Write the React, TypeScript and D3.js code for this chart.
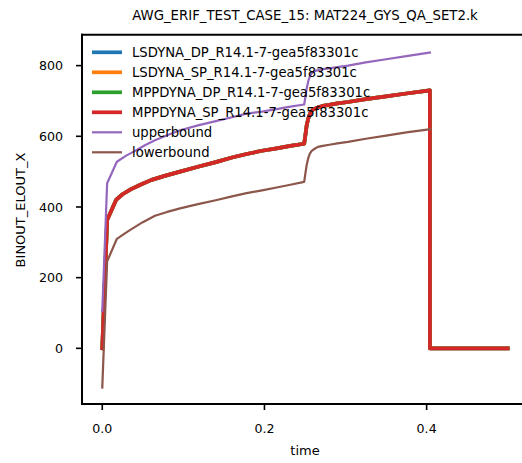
import React from "react";
import * as d3 from "d3";

const seriesNames = [
  "LSDYNA_DP_R14.1-7-gea5f83301c",
  "LSDYNA_SP_R14.1-7-gea5f83301c",
  "MPPDYNA_DP_R14.1-7-gea5f83301c",
  "MPPDYNA_SP_R14.1-7-gea5f83301c",
];
const seriesColors = ["#1f77b4", "#ff7f0e", "#2ca02c", "#d62728"];

const mainTime = [0, 0.006, 0.017, 0.025, 0.035, 0.047, 0.06, 0.077, 0.096, 0.118, 0.14, 0.16, 0.178, 0.197, 0.215, 0.232, 0.249, 0.2505, 0.252, 0.254, 0.256, 0.258, 0.26, 0.263, 0.266, 0.272, 0.28, 0.29, 0.303, 0.325, 0.35, 0.375, 0.404, 0.4041, 0.45, 0.5];
const mainValues = [0, 363, 420, 436, 450, 463, 476, 488, 500, 514, 527, 540, 550, 559, 566, 573, 579, 604, 630, 650, 663, 671, 676, 679, 682, 686, 689, 693, 697, 705, 713, 721, 730, 0, 0, 0];

const upperTime = [0, 0.006, 0.018, 0.03, 0.04, 0.052, 0.065, 0.08, 0.096, 0.118, 0.14, 0.16, 0.178, 0.197, 0.215, 0.232, 0.249, 0.2505, 0.252, 0.254, 0.256, 0.258, 0.26, 0.264, 0.272, 0.28, 0.29, 0.303, 0.325, 0.35, 0.375, 0.404];
const upperValues = [105, 467, 528, 546, 558, 574, 589, 603, 617, 631, 643, 654, 664, 670, 677, 684, 690, 712, 734, 756, 770, 778, 782, 786, 790, 792, 796, 800, 809, 818, 827, 837];

const lowerTime = [0, 0.006, 0.018, 0.027, 0.035, 0.05, 0.065, 0.08, 0.096, 0.118, 0.14, 0.16, 0.178, 0.197, 0.215, 0.232, 0.249, 0.2505, 0.252, 0.254, 0.256, 0.258, 0.26, 0.263, 0.266, 0.272, 0.28, 0.29, 0.303, 0.325, 0.35, 0.375, 0.404];
const lowerValues = [-111, 246, 310, 324, 336, 357, 375, 386, 396, 408, 419, 430, 439, 447, 455, 463, 471, 495, 518, 538, 551, 558, 562, 566, 570, 573, 576, 580, 584, 593, 602, 611, 620];

const xTicks = [0, 0.2, 0.4];
const yTicks = [0, 200, 400, 600, 800];

const W = 522;
const H = 463;
const left = 82;
const right = 528;
const top = 34.7;
const bottom = 404;
const FONT = "DejaVu Sans, sans-serif";

export default function App() {
  const x = d3.scaleLinear().domain([-0.025, 0.525]).range([left, right]);
  const y = d3.scaleLinear().domain([-157.5, 887.5]).range([bottom, top]);

  const line = d3
    .line<[number, number]>()
    .x((d) => x(d[0]))
    .y((d) => y(d[1]));

  const mainPts = mainTime.map((t, i) => [t, mainValues[i]] as [number, number]);
  const upperPts = upperTime.map((t, i) => [t, upperValues[i]] as [number, number]);
  const lowerPts = lowerTime.map((t, i) => [t, lowerValues[i]] as [number, number]);

  const legendItems = [
    ...seriesNames.map((n, i) => ({ name: n, color: seriesColors[i], w: 3.7 })),
    { name: "upperbound", color: "#9467bd", w: 2.2 },
    { name: "lowerbound", color: "#8c564b", w: 2.2 },
  ];

  return (
    <svg
      width={W}
      height={H}
      style={{ position: "absolute", left: 0, top: 0, background: "#fff" }}
      fontFamily={FONT}
    >
      <rect x={0} y={0} width={W} height={H} fill="#fff" />
      {seriesNames.map((n, i) => (
        <path
          key={n}
          d={line(mainPts) || ""}
          fill="none"
          stroke={seriesColors[i]}
          strokeWidth={3.7}
          strokeLinecap="square"
          strokeLinejoin="round"
        />
      ))}
      <path d={line(upperPts) || ""} fill="none" stroke="#9467bd" strokeWidth={2.2} strokeLinecap="square" strokeLinejoin="round" />
      <path d={line(lowerPts) || ""} fill="none" stroke="#8c564b" strokeWidth={2.2} strokeLinecap="square" strokeLinejoin="round" />
      {/* spines */}
      <line x1={left} x2={left} y1={top} y2={bottom} stroke="#000" strokeWidth={2} strokeLinecap="square" />
      <line x1={left} x2={W + 10} y1={bottom} y2={bottom} stroke="#000" strokeWidth={2} strokeLinecap="square" />
      <line x1={left} x2={W + 10} y1={top} y2={top} stroke="#000" strokeWidth={2} strokeLinecap="square" />
      {/* x ticks */}
      {xTicks.map((t) => (
        <g key={t}>
          <line x1={x(t)} x2={x(t)} y1={bottom} y2={bottom + 6} stroke="#000" strokeWidth={1.6} />
          <text x={x(t)} y={433} textAnchor="middle" fontSize={12.6} fill="#000">
            {d3.format(".1f")(t)}
          </text>
        </g>
      ))}
      {/* y ticks */}
      {yTicks.map((t) => (
        <g key={t}>
          <line x1={left - 6} x2={left} y1={y(t)} y2={y(t)} stroke="#000" strokeWidth={1.6} />
          <text x={63} y={y(t) + 4.6} textAnchor="end" fontSize={12.6} fill="#000">
            {t}
          </text>
        </g>
      ))}
      {/* labels */}
      <text x={305} y={455} textAnchor="middle" fontSize={13} fill="#000">
        time
      </text>
      <text transform="translate(25,210) rotate(-90)" textAnchor="middle" fontSize={13} fill="#000">
        BINOUT_ELOUT_X
      </text>
      <text x={305} y={19.5} textAnchor="middle" fontSize={13.3} fill="#000">
        AWG_ERIF_TEST_CASE_15: MAT224_GYS_QA_SET2.k
      </text>
      {/* legend */}
      {legendItems.map((it, i) => {
        const ry = 52.3 + 20 * i;
        return (
          <g key={it.name}>
            <line x1={92} x2={122} y1={ry} y2={ry} stroke={it.color} strokeWidth={it.w} />
            <text x={132} y={ry + 4.8} fontSize={13.2} fill="#000">
              {it.name}
            </text>
          </g>
        );
      })}
    </svg>
  );
}
